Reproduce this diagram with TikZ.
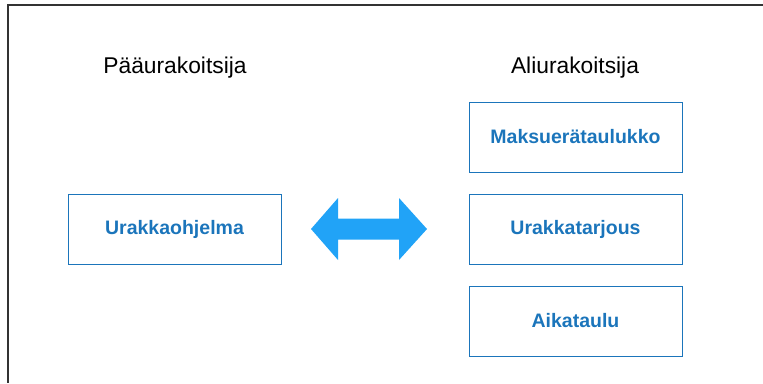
\documentclass[tikz,border=0pt]{standalone}
\usepackage{fontspec}
\setmainfont{Liberation Sans}
\usepackage{tikz}
\usetikzlibrary{positioning}

\definecolor{boxblue}{RGB}{27,117,187}
\definecolor{arrowblue}{RGB}{33,163,247}

\begin{document}
\begin{tikzpicture}[x=1pt,y=-1pt,
            doc/.style={draw=boxblue,line width=1pt,rectangle,minimum width=213,minimum height=70,text=boxblue,font=\fontsize{19.5}{23}\selectfont\bfseries,node distance=92},
            party/.style={font=\fontsize{22.8}{27}\selectfont},
            frame/.style={draw=black!80,line width=1.3pt}
          ]
          \useasboundingbox (0,0) rectangle (763,383);
          %frame
          \coordinate (fr) at (8,5);
          \draw[frame] (763,5) -- (fr) -- (8,383);

          %labels
          \node[party] (main) at (175,68) {Pääurakoitsija};
          \node[party] (sub) at (575,68) {Aliurakoitsija};

          %documents
          \node[doc] (prog) at (174.5,229) {Urakkaohjelma};
          \node[doc] (pay) at (575.5,137) {Maksuerätaulukko};
          \node[below of = pay,doc] (offer) {Urakkatarjous};
          \node[below of = offer,doc] (sched) {Aikataulu};

          %exchange arrow
          \coordinate (arr) at (369,229);
          \fill[arrowblue] (arr) ++(-58,0) -- ++(27,-31) -- ++(0,20.5) -- ++(61,0)
            -- ++(0,-20.5) -- ++(28,31) -- ++(-28,31) -- ++(0,-20.5) -- ++(-61,0)
            -- ++(0,20.5) -- cycle;

      \end{tikzpicture}
\end{document}
